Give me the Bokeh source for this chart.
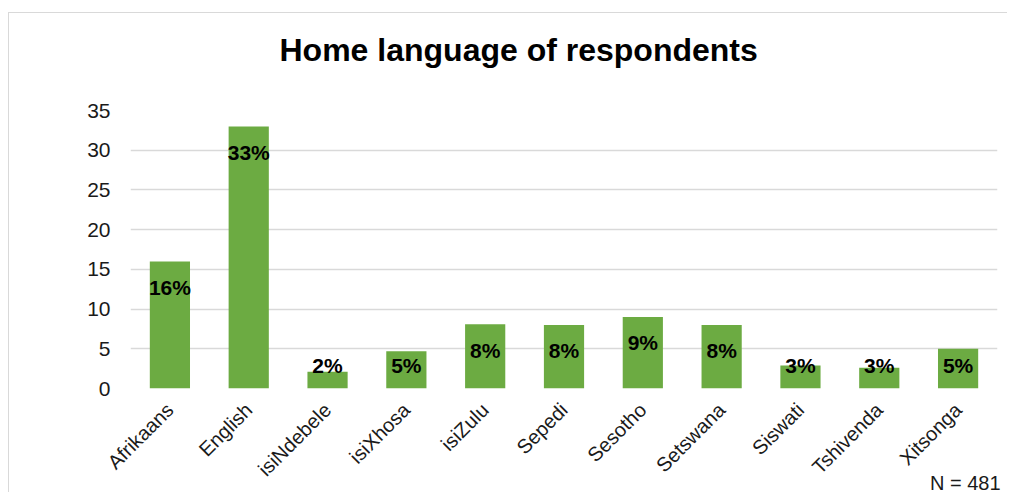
from bokeh.plotting import figure
from bokeh.models import ColumnDataSource, FactorRange, Range1d, FixedTicker, Title
from bokeh.embed import file_html
from bokeh.resources import INLINE
from bokeh.core.properties import value
import numpy as np
import math

languages = ["Afrikaans", "English", "isiNdebele", "isiXhosa", "isiZulu", "Sepedi",
             "Sesotho", "Setswana", "Siswati", "Tshivenda", "Xitsonga"]
percent_values = [16.0, 33.0, 2.1, 4.7, 8.1, 8.0, 9.0, 8.0, 2.9, 2.6, 5.0]
percent_labels = ["16%", "33%", "2%", "5%", "8%", "8%", "9%", "8%", "3%", "3%", "5%"]
y_ticks = [0, 5, 10, 15, 20, 25, 30, 35]
title_text = "Home language of respondents"
note_text = "N = 481"

FONT = "Liberation Sans"

vals = np.array(percent_values)
label_y = np.maximum(vals - 4.15, 2.0)

src = ColumnDataSource(dict(lang=languages, v=percent_values, lab=percent_labels, ly=label_y))

p = figure(x_range=FactorRange(*languages), y_range=Range1d(0, 35),
           width=999, height=480, output_backend="svg", toolbar_location=None,
           min_border_left=121, min_border_right=11, min_border_top=97, min_border_bottom=105)
p.styles = {"border-left": "1px solid #d9d9d9", "border-top": "1px solid #d9d9d9",
            "margin-top": "12px", "margin-left": "8px"}
p.outline_line_color = None
p.background_fill_color = "white"
p.border_fill_color = "white"

p.vbar(x="lang", top="v", width=0.51, source=src, fill_color="#6cab42", line_color=None)

p.text(x="lang", y="ly", text="lab", source=src, text_align="center", text_baseline="alphabetic",
       y_offset=-7, text_font=value(FONT), text_font_size="21px", text_font_style="bold",
       text_color="#000000")

p.xgrid.grid_line_color = None
p.ygrid.grid_line_color = "#d9d9d9"
p.ygrid.grid_line_width = 1.5
p.ygrid.ticker = FixedTicker(ticks=y_ticks)

p.yaxis.ticker = FixedTicker(ticks=y_ticks)
p.yaxis.axis_line_color = None
p.yaxis.major_tick_line_color = None
p.yaxis.minor_tick_line_color = None
p.yaxis.major_label_text_font = FONT
p.yaxis.major_label_text_font_size = "21px"
p.yaxis.major_label_text_color = "#1a1a1a"
p.yaxis.major_label_standoff = 14

p.xaxis.axis_line_color = None
p.xaxis.major_tick_line_color = None
p.xaxis.minor_tick_line_color = None
p.xaxis.major_label_orientation = math.pi / 4
p.xaxis.major_label_text_font = FONT
p.xaxis.major_label_text_font_size = "20px"
p.xaxis.major_label_text_color = "#1a1a1a"
p.xaxis.major_label_standoff = 12

# spacer keeps the title well above the plot area
p.add_layout(Title(text=" ", align="left", text_font=FONT, text_font_size="10px",
                   text_color="#ffffff", standoff=30), "above")
p.add_layout(Title(text=title_text, align="left", vertical_align="bottom", text_font=FONT,
                   text_font_size="32px", text_font_style="bold", text_color="#000000",
                   standoff=0, offset=149), "above")
p.add_layout(Title(text=note_text, align="right", vertical_align="top", text_font=FONT,
                   text_font_size="20px", text_font_style="normal", text_color="#1a1a1a",
                   standoff=-40, offset=-3), "below")

open("out.html", "w").write(file_html(p, INLINE))
